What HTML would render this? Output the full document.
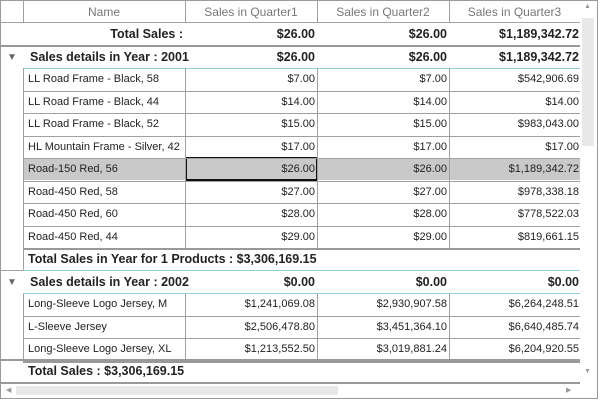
<!DOCTYPE html>
<html><head><style>
body{margin:0;width:600px;height:402px;background:#fff;position:relative;overflow:hidden;font-family:"Liberation Sans",sans-serif;color:#222}
.a{position:absolute;box-sizing:border-box}
.t{position:absolute;white-space:nowrap;font-size:11px;line-height:23px}
.b{font-weight:bold;font-size:12.5px}
.r{text-align:right}
.hl{position:absolute;height:1px;background:#a0a0a0}
.vl{position:absolute;width:1px;background:#a0a0a0}
</style></head><body>
<div class="a" style="left:0;top:0;width:598px;height:399px;border:1px solid #9a9a9a"></div>
<div class="t" style="left:23px;top:1px;width:162px;text-align:center;color:#777;font-size:12px">Name</div>
<div class="t" style="left:185px;top:1px;width:132px;text-align:center;color:#777;font-size:12px">Sales in Quarter1</div>
<div class="t" style="left:317px;top:1px;width:132px;text-align:center;color:#777;font-size:12px">Sales in Quarter2</div>
<div class="t" style="left:449px;top:1px;width:131px;text-align:center;color:#777;font-size:12px">Sales in Quarter3</div>
<div class="vl" style="left:23px;top:0;height:23px"></div>
<div class="vl" style="left:185px;top:0;height:23px"></div>
<div class="vl" style="left:317px;top:0;height:23px"></div>
<div class="vl" style="left:449px;top:0;height:23px"></div>
<div class="hl" style="left:0;top:22px;width:580px"></div>
<div class="t b r" style="left:23px;top:23px;width:160px">Total Sales :</div>
<div class="t b r" style="left:185px;top:23px;width:130px">$26.00</div>
<div class="t b r" style="left:317px;top:23px;width:130px">$26.00</div>
<div class="t b r" style="left:449px;top:23px;width:130px">$1,189,342.72</div>
<div class="hl" style="left:0;top:45px;width:580px;height:2px;background:#999"></div>
<div class="t" style="left:7px;top:46px;color:#666;font-size:10px">▼</div>
<div class="t b" style="left:30px;top:46px">Sales details in Year : 2001</div>
<div class="t b r" style="left:185px;top:46px;width:130px">$26.00</div>
<div class="t b r" style="left:317px;top:46px;width:130px">$26.00</div>
<div class="t b r" style="left:449px;top:46px;width:130px">$1,189,342.72</div>
<div class="hl" style="left:23px;top:68px;width:557px;background:#8fd0dc"></div>
<div class="a" style="left:24px;top:158px;width:556px;height:22px;background:#c9c9c9"></div>
<div class="a" style="left:185px;top:157px;width:133px;height:24px;border:2px solid #111"></div>
<div id="rows"></div>
<div class="t b" style="left:28px;top:248px">Total Sales in Year for 1 Products : $3,306,169.15</div>
<div class="hl" style="left:23px;top:270px;width:557px;background:#8fd0dc"></div>
<div class="hl" style="left:0;top:270px;width:23px"></div>
<div class="t" style="left:7px;top:271px;color:#666;font-size:10px">▼</div>
<div class="t b" style="left:30px;top:271px">Sales details in Year : 2002</div>
<div class="t b r" style="left:185px;top:271px;width:130px">$0.00</div>
<div class="t b r" style="left:317px;top:271px;width:130px">$0.00</div>
<div class="t b r" style="left:449px;top:271px;width:130px">$0.00</div>
<div class="hl" style="left:23px;top:293px;width:557px;background:#8fd0dc"></div>
<div class="hl" style="left:0;top:359px;width:580px;height:2px;background:#999"></div>
<div class="t b" style="left:28px;top:360px">Total Sales : $3,306,169.15</div>
<div class="hl" style="left:0;top:382px;width:580px;height:2px;background:#999"></div>
<div class="a" style="left:582px;top:18px;width:12px;height:128px;background:#e8e8e8"></div>
<div class="t" style="left:584px;top:-5px;font-size:7px;color:#999">▲</div>
<div class="t" style="left:584px;top:360px;font-size:7px;color:#999">▼</div>
<div class="a" style="left:16px;top:386px;width:322px;height:9px;background:#e8e8e8"></div>
<div class="t" style="left:6px;top:379px;font-size:7px;color:#999">◀</div>
<div class="t" style="left:566px;top:379px;font-size:7px;color:#999">▶</div>
<script>
var d=[["LL Road Frame - Black, 58","$7.00","$7.00","$542,906.69"],["LL Road Frame - Black, 44","$14.00","$14.00","$14.00"],["LL Road Frame - Black, 52","$15.00","$15.00","$983,043.00"],["HL Mountain Frame - Silver, 42","$17.00","$17.00","$17.00"],["Road-150 Red, 56","$26.00","$26.00","$1,189,342.72"],["Road-450 Red, 58","$27.00","$27.00","$978,338.18"],["Road-450 Red, 60","$28.00","$28.00","$778,522.03"],["Road-450 Red, 44","$29.00","$29.00","$819,661.15"]];
var e=[["Long-Sleeve Logo Jersey, M","$1,241,069.08","$2,930,907.58","$6,264,248.51"],["L-Sleeve Jersey","$2,506,478.80","$3,451,364.10","$6,640,485.74"],["Long-Sleeve Logo Jersey, XL","$1,213,552.50","$3,019,881.24","$6,204,920.55"]];
var h="";
function block(arr,y0,ext){
 var y=y0;
 arr.forEach(function(r,i){
  h+='<div class="t" style="left:28px;top:'+y+'px">'+r[0]+'</div>';
  h+='<div class="t r" style="left:185px;top:'+y+'px;width:130px">'+r[1]+'</div>';
  h+='<div class="t r" style="left:317px;top:'+y+'px;width:130px">'+r[2]+'</div>';
  h+='<div class="t r" style="left:449px;top:'+y+'px;width:130px">'+r[3]+'</div>';
  y+=22.5;
  h+='<div class="hl" style="left:23px;top:'+Math.round(y)+'px;width:557px'+(i==arr.length-1?';height:2px;background:#999':'')+'"></div>';
 });
 var hh=Math.round(y-y0);
 [23,185,317,449].forEach(function(x){h+='<div class="vl" style="left:'+x+'px;top:'+y0+'px;height:'+hh+'px"></div>';});
 if(ext) h+='<div class="vl" style="left:23px;top:'+y0+'px;height:'+(hh+22)+'px"></div>';
}
block(d,68,true);block(e,293,false);
document.getElementById("rows").innerHTML=h;
</script>
</body></html>
